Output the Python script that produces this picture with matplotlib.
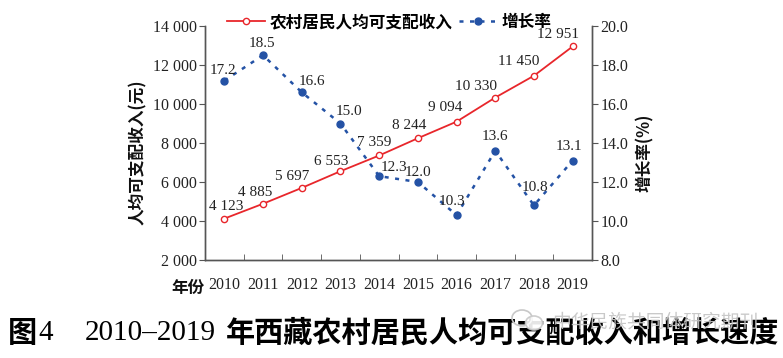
import matplotlib
matplotlib.use("Agg")
import matplotlib.pyplot as plt
from matplotlib.ticker import FuncFormatter, FixedLocator
from matplotlib.patches import Ellipse

years = ["2010", "2011", "2012", "2013", "2014", "2015", "2016", "2017", "2018", "2019"]
income = [4123, 4885, 5697, 6553, 7359, 8244, 9094, 10330, 11450, 12951]
growth = [17.2, 18.5, 16.6, 15.0, 12.3, 12.0, 10.3, 13.6, 10.8, 13.1]

# label offsets in pixels (dx, dy)
income_off = [(2, 12), (-8, 11), (-10, 11), (-9, 10), (-5, 13), (-9, 13), (-11, 14), (-19, 11), (-15, 14), (-15, 12)]
growth_off = [(-1, 10), (-1, 12), (10, 11), (9, 12), (15, 9), (0, 10), (-5, 14), (0, 14), (1, 18), (-4, 14)]

RED = "#e8262b"
BLUE = "#2452a5"
SPINE = "#555555"
SERIF = "Liberation Serif"
CJK = ["Noto Sans CJK SC", "DejaVu Sans"]

fig = plt.figure(figsize=(7.83, 3.58), dpi=100)
ax = fig.add_axes([205 / 783, 1 - 260 / 358, 387 / 783, 234 / 358])
ax2 = ax.twinx()

x = list(range(len(years)))
ln1, = ax.plot(x, income, color=RED, lw=1.3, marker="o", ms=4.5, mfc="white", mec=RED, mew=1.0,
               label="农村居民人均可支配收入", zorder=3)
ln2, = ax2.plot(x, growth, color=BLUE, lw=1.8, ls=(0, (1.6, 2.6)), marker="o", ms=5, mfc=BLUE, mec=BLUE,
                label="增长率", zorder=3)

for i, v in enumerate(income):
    ax.annotate(f"{v:,}".replace(",", " "), (x[i], v), xytext=income_off[i], textcoords="offset pixels",
                ha="center", va="center", fontsize=11, family=SERIF, color="#222222")
for i, v in enumerate(growth):
    ax2.annotate(f"{v:.1f}", (x[i], v), xytext=growth_off[i], textcoords="offset pixels",
                 ha="center", va="center", fontsize=11, family=SERIF, color="#222222")

ax.set_xlim(-0.5, len(years) - 0.5)
ax.set_ylim(2000, 14000)
ax2.set_ylim(8, 20)
ax.set_yticks(range(2000, 14001, 2000))
ax2.set_yticks([8, 10, 12, 14, 16, 18, 20])
ax.yaxis.set_major_formatter(FuncFormatter(lambda v, p: f"{v:,.0f}".replace(",", " ")))
ax2.yaxis.set_major_formatter(FuncFormatter(lambda v, p: f"{v:.1f}"))

ax.set_xticks(x)
ax.set_xticklabels(years)
ax.xaxis.set_minor_locator(FixedLocator([i + 0.5 for i in x[:-1]]))
ax.tick_params(axis="x", which="major", length=0, pad=12)
ax.tick_params(axis="x", which="minor", direction="in", length=4, color=SPINE)
ax.tick_params(axis="y", direction="out", length=4, color=SPINE, pad=2)
ax2.tick_params(axis="y", direction="out", length=4, color=SPINE, pad=2)

for a in (ax, ax2):
    for lab in a.get_xticklabels() + a.get_yticklabels():
        lab.set_family(SERIF)
        lab.set_fontsize(11.5)
        lab.set_color("#222222")
    a.spines["top"].set_visible(False)
    for s in ("left", "right", "bottom"):
        a.spines[s].set_color(SPINE)
        a.spines[s].set_linewidth(1.0)

fig.text(138 / 783, 1 - 152 / 358, "人均可支配收入(元)", rotation=90, ha="center", va="center",
         fontsize=12, family=CJK, weight="bold", color="#111111")
fig.text(645 / 783, 1 - 153 / 358, "增长率(%)", rotation=90, ha="center", va="center",
         fontsize=12, family=CJK, weight="bold", color="#111111")
fig.text(188 / 783, 1 - 288 / 358, "年份", ha="center", va="center",
         fontsize=12, family=CJK, weight="bold", color="#111111")

fig.legend(handles=[ln1, ln2], loc="center", bbox_to_anchor=(389 / 783, 1 - 22 / 358), ncol=2,
           frameon=False, handlelength=2.3, handletextpad=0.25, columnspacing=0.4,
           prop={"family": CJK, "size": 12, "weight": "bold"})

# caption
cap_y = 1 - 333 / 358
fig.text(8 / 783, cap_y, "图", ha="left", va="center", fontsize=21, family=CJK, weight="bold", color="black")
fig.text(38 / 783, cap_y, "4", ha="left", va="center", fontsize=21, family=SERIF, color="black")
fig.text(85 / 783, cap_y, "2010–2019", ha="left", va="center", fontsize=21, family=SERIF, color="black")
fig.text(226 / 783, cap_y, "年西藏农村居民人均可支配收入和增长速度", ha="left", va="center",
         fontsize=21, family=CJK, weight="bold", color="black")

# watermark
fig.add_artist(Ellipse((5.22, 0.40), 0.2, 0.16, transform=fig.dpi_scale_trans, fill=False,
                       ec="#c8c8c8", lw=1.2, zorder=5))
fig.add_artist(Ellipse((5.34, 0.35), 0.17, 0.14, transform=fig.dpi_scale_trans, fc="white",
                       ec="#c8c8c8", lw=1.2, alpha=0.9, zorder=5))
fig.text(552 / 783, 1 - 322 / 358, "中华民族共同体研究期刊", ha="left", va="center", fontsize=13.5,
         family=CJK, color="#c4c4c4", alpha=0.9, zorder=6)

fig.savefig("out.png", dpi=100)
